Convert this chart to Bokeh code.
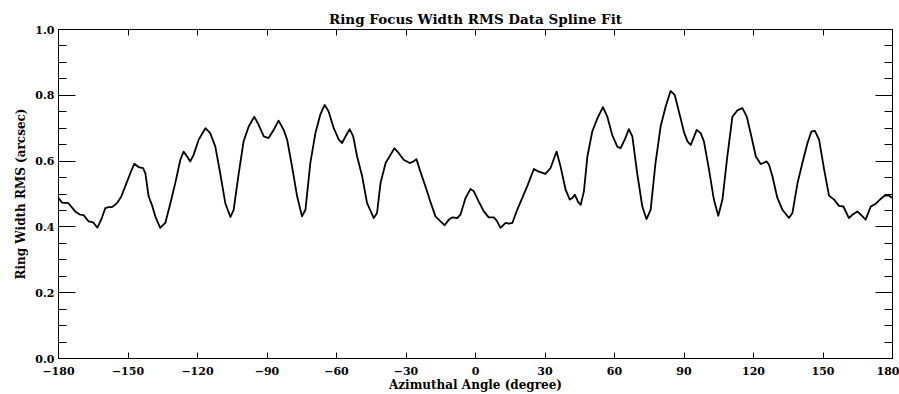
from bokeh.plotting import figure
from bokeh.models import FixedTicker, LinearAxis, Range1d, Title
from bokeh.embed import file_html
from bokeh.resources import INLINE

angle = [-180.0, -178.5, -175.7, -172.8, -170.6, -169.2, -167.0, -165.1, -163.2, -161.3,
         -159.8, -158.4, -156.9, -154.8, -153.0, -151.2, -149.0, -147.3, -145.4, -143.5,
         -142.5, -141.1, -139.7, -138.2, -136.1, -133.9, -131.7, -129.6, -127.4, -126.0,
         -124.5, -123.1, -121.7, -119.5, -116.6, -114.5, -112.3, -110.2, -108.0, -105.8,
         -104.4, -102.2, -100.1, -97.9, -95.5, -93.6, -91.4, -89.3, -87.1, -85.0,
         -82.8, -81.3, -79.2, -77.0, -74.9, -73.4, -71.3, -69.1, -67.0, -65.1,
         -63.4, -61.2, -59.0, -57.6, -55.7, -54.3, -52.8, -51.1, -48.9, -46.8,
         -43.9, -42.5, -41.0, -38.8, -36.7, -35.0, -33.1, -31.0, -28.4, -26.7,
         -25.5, -23.8, -21.6, -19.5, -17.3, -15.1, -13.3, -11.5, -10.1, -7.9,
         -6.5, -4.3, -2.2, -0.7, 1.4, 3.6, 5.7, 7.9, 9.1, 10.8,
         13.0, 14.4, 15.9, 18.0, 20.2, 22.3, 25.2, 27.3, 30.2, 32.4,
         35.0, 36.7, 38.9, 40.7, 41.8, 42.9, 44.2, 45.4, 46.8, 48.3,
         50.4, 52.6, 55.0, 56.9, 59.0, 61.2, 62.6, 64.4, 66.2, 67.7,
         69.8, 72.0, 73.8, 75.6, 77.7, 79.9, 82.1, 84.2, 86.0, 87.8,
         90.0, 91.5, 92.9, 94.1, 95.5, 97.2, 98.6, 100.8, 102.9, 104.8,
         106.6, 108.7, 110.9, 113.0, 115.2, 117.1, 119.1, 121.0, 123.1, 125.7,
         126.7, 128.2, 130.3, 132.5, 135.3, 136.8, 139.0, 141.1, 143.3, 145.0,
         146.5, 148.3, 150.5, 152.6, 154.8, 156.9, 158.8, 161.2, 162.7, 164.8,
         166.3, 168.4, 170.6, 172.7, 174.9, 176.6, 178.5, 180.0]

rms = [0.488, 0.474, 0.472, 0.447, 0.437, 0.436, 0.417, 0.414, 0.398, 0.427,
       0.457, 0.460, 0.460, 0.472, 0.491, 0.523, 0.563, 0.592, 0.582, 0.579,
       0.563, 0.493, 0.467, 0.432, 0.397, 0.412, 0.472, 0.533, 0.604, 0.629,
       0.614, 0.599, 0.619, 0.665, 0.700, 0.685, 0.644, 0.563, 0.472, 0.430,
       0.452, 0.563, 0.660, 0.705, 0.735, 0.710, 0.675, 0.670, 0.695, 0.723,
       0.695, 0.665, 0.584, 0.493, 0.432, 0.452, 0.594, 0.685, 0.741, 0.771,
       0.751, 0.700, 0.665, 0.655, 0.680, 0.697, 0.675, 0.614, 0.553, 0.472,
       0.427, 0.442, 0.533, 0.594, 0.619, 0.639, 0.624, 0.604, 0.594, 0.599,
       0.606, 0.568, 0.523, 0.477, 0.432, 0.417, 0.405, 0.422, 0.429, 0.427,
       0.437, 0.488, 0.515, 0.508, 0.477, 0.447, 0.429, 0.429, 0.420, 0.397,
       0.412, 0.410, 0.412, 0.452, 0.488, 0.523, 0.576, 0.568, 0.561, 0.579,
       0.629, 0.584, 0.513, 0.483, 0.488, 0.498, 0.477, 0.467, 0.508, 0.614,
       0.690, 0.730, 0.764, 0.735, 0.680, 0.644, 0.639, 0.665, 0.697, 0.675,
       0.563, 0.462, 0.424, 0.452, 0.594, 0.705, 0.766, 0.813, 0.801, 0.751,
       0.688, 0.660, 0.649, 0.670, 0.695, 0.685, 0.660, 0.574, 0.483, 0.434,
       0.483, 0.614, 0.735, 0.754, 0.761, 0.735, 0.675, 0.614, 0.591, 0.599,
       0.589, 0.553, 0.488, 0.452, 0.427, 0.442, 0.533, 0.594, 0.655, 0.690,
       0.692, 0.665, 0.574, 0.495, 0.483, 0.464, 0.462, 0.427, 0.437, 0.447,
       0.437, 0.422, 0.462, 0.470, 0.485, 0.495, 0.495, 0.488]

x_ticks = [-180, -150, -120, -90, -60, -30, 0, 30, 60, 90, 120, 150, 180]
x_tick_labels = ["\u2212180", "\u2212150", "\u2212120", "\u221290", "\u221260", "\u221230",
                 "0", "30", "60", "90", "120", "150", "180"]
y_ticks = [0.0, 0.2, 0.4, 0.6, 0.8, 1.0]
y_tick_labels = ["0.0", "0.2", "0.4", "0.6", "0.8", "1.0"]
y_minor = [0.05, 0.1, 0.15, 0.25, 0.3, 0.35, 0.45, 0.5, 0.55, 0.65, 0.7, 0.75, 0.85, 0.9, 0.95]

FONT = "DejaVu Serif"

p = figure(width=899, height=394, output_backend="svg", toolbar_location=None,
           x_range=Range1d(-180, 180), y_range=Range1d(0, 1.0),
           x_axis_type=None, y_axis_type=None,
           min_border_left=58, min_border_right=7, min_border_top=29, min_border_bottom=35,
           background_fill_color="white", border_fill_color="white")
p.outline_line_color = "black"
p.outline_line_width = 1
p.xgrid.visible = False
p.ygrid.visible = False

p.title = Title(text="Ring Focus Width RMS Data Spline Fit", align="center",
                text_font=FONT, text_font_style="bold", text_font_size="13.5px",
                text_color="black", standoff=5)

xt = FixedTicker(ticks=x_ticks)
yt = FixedTicker(ticks=y_ticks, minor_ticks=y_minor)


def style_x(ax, labels):
    ax.ticker = xt
    ax.axis_line_color = "black"
    ax.major_tick_line_color = "black"
    ax.major_tick_in = 6
    ax.major_tick_out = 0
    ax.minor_tick_line_color = None
    ax.major_label_text_font = FONT
    ax.major_label_text_font_style = "bold"
    ax.major_label_text_font_size = "11px"
    ax.major_label_text_color = "black"
    if labels:
        ax.major_label_standoff = 8
        ax.major_label_overrides = {t: l for t, l in zip(x_ticks, x_tick_labels)}
    else:
        ax.major_label_standoff = 0
        ax.major_label_overrides = {t: "" for t in x_ticks}


def style_y(ax, labels):
    ax.ticker = yt
    ax.axis_line_color = "black"
    ax.major_tick_line_color = "black"
    ax.minor_tick_line_color = "black"
    ax.major_tick_in = 17
    ax.major_tick_out = 0
    ax.minor_tick_in = 8
    ax.minor_tick_out = 0
    ax.major_label_text_font = FONT
    ax.major_label_text_font_style = "bold"
    ax.major_label_text_font_size = "11px"
    ax.major_label_text_color = "black"
    if labels:
        ax.major_label_standoff = 4
        ax.major_label_overrides = {t: l for t, l in zip(y_ticks, y_tick_labels)}
    else:
        ax.major_label_standoff = 0
        ax.major_label_overrides = {t: "" for t in y_ticks}


xb = LinearAxis(axis_label="Azimuthal Angle (degree)")
style_x(xb, True)
xb.axis_label_text_font = FONT
xb.axis_label_text_font_style = "bold"
xb.axis_label_text_font_size = "12px"
xb.axis_label_text_color = "black"
xb.axis_label_standoff = 0
p.add_layout(xb, "below")

xa = LinearAxis()
style_x(xa, False)
p.add_layout(xa, "above")

yl = LinearAxis(axis_label="Ring Width RMS (arcsec)")
style_y(yl, True)
yl.axis_label_text_font = FONT
yl.axis_label_text_font_style = "bold"
yl.axis_label_text_font_size = "12px"
yl.axis_label_text_color = "black"
yl.axis_label_standoff = 4
p.add_layout(yl, "left")

yr = LinearAxis()
style_y(yr, False)
p.add_layout(yr, "right")

p.line(angle, rms, line_color="black", line_width=1.8, line_join="round")

open("out.html", "w").write(file_html(p, INLINE))
